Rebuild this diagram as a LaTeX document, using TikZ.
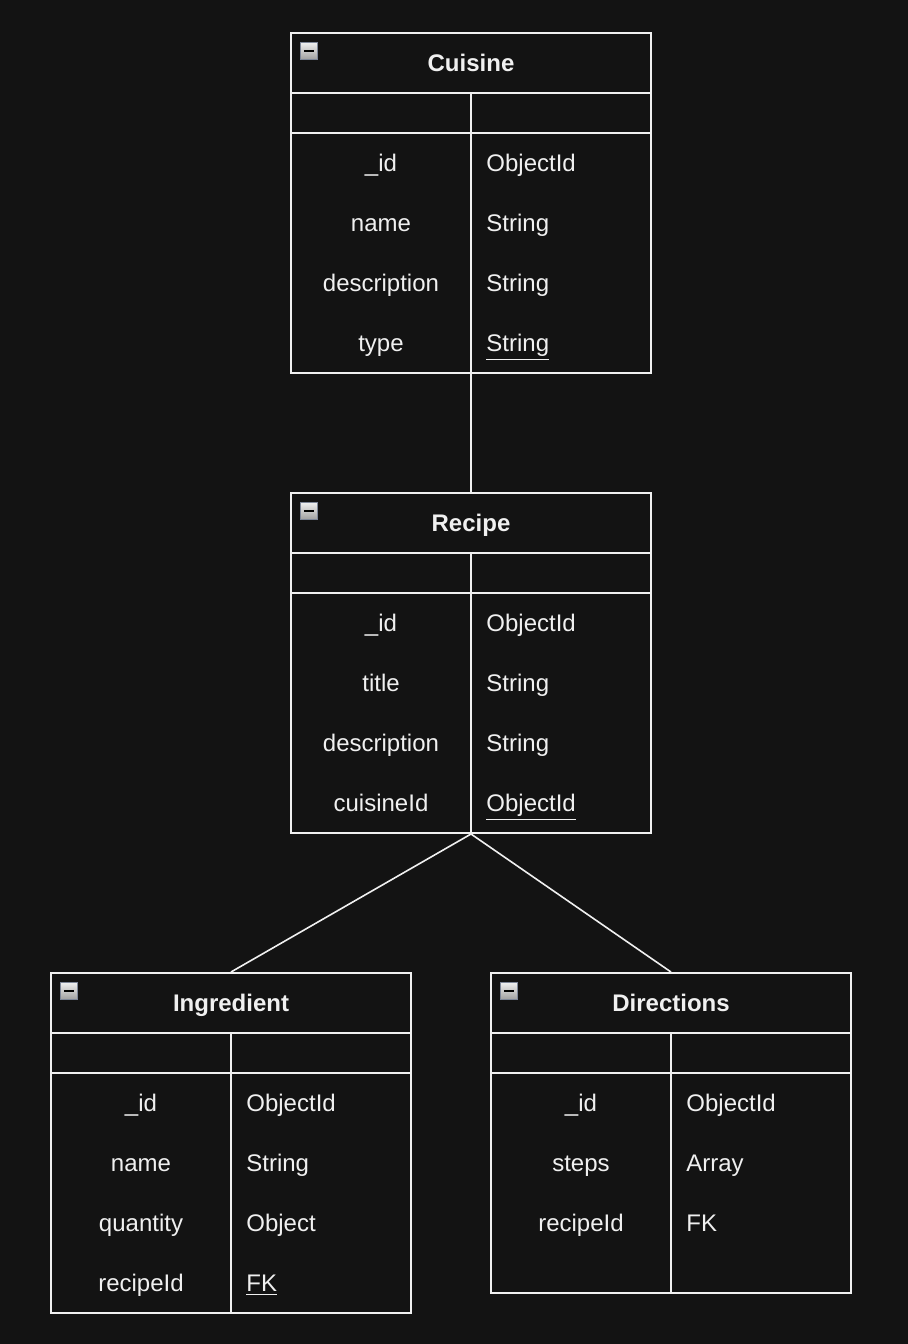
\documentclass[tikz,border=0pt]{standalone}
\usepackage{fontspec}
\setmainfont{Liberation Sans}
\definecolor{bgdark}{HTML}{131313}
\definecolor{inkwhite}{HTML}{F0F0F0}
\definecolor{iconedge}{HTML}{7E8799}
\newcommand{\fieldfont}{\fontsize{12pt}{14pt}\selectfont}
\tikzset{
  entity/.style={draw=inkwhite, line width=1pt, minimum width=180pt, inner sep=0pt},
  etitle/.style={text=inkwhite, font=\fieldfont\bfseries, text height=8.6pt, text depth=0pt, inner sep=0pt},
  fieldname/.style={text=inkwhite, font=\fieldfont, text height=8.6pt, text depth=0pt, inner sep=0pt},
  fieldtype/.style={fieldname, anchor=west},
  minusicon/.style={draw=iconedge, line width=0.6pt, minimum size=8.5pt, inner sep=0pt,
    top color=white!88!gray, bottom color=gray!75,
    path picture={\draw[black, line width=1pt] ([xshift=1.8pt]path picture bounding box.west) -- ([xshift=-1.8pt]path picture bounding box.east);}},
  rule/.style={draw=inkwhite, line width=1pt},
}
\begin{document}
\begin{tikzpicture}[x=0.5pt,y=-0.5pt]
    \fill[bgdark](0,0) rectangle (908,1344);
    \useasboundingbox(0,0) rectangle (908,1344);
    % Cuisine
    \node[entity, minimum height=170pt](cuisine) at (471,203){};
    \draw[rule](291,93)--(651,93) (291,133)--(651,133) (471,93)--(471,373);
    \node[minusicon](cuisinemin) at (309,51){};
    \node[etitle](cuisinetitle) at (471,63){Cuisine};
    \foreach \y/\f/\t [count=\i] in {163/\_id/ObjectId,223/name/String,283/description/String,343/type/\underline{String}}{
        \node[fieldname](cuisinef\i) at (381,\y){\f};
        \node[fieldtype](cuisinet\i) at (486,\y){\t};
    }
    % Recipe
    \node[entity, minimum height=170pt](recipe) at (471,663){};
    \draw[rule](291,553)--(651,553) (291,593)--(651,593) (471,553)--(471,833);
    \node[minusicon](recipemin) at (309,511){};
    \node[etitle](recipetitle) at (471,523){Recipe};
    \foreach \y/\f/\t [count=\i] in {623/\_id/ObjectId,683/title/String,743/description/String,803/cuisineId/\underline{ObjectId}}{
        \node[fieldname](recipef\i) at (381,\y){\f};
        \node[fieldtype](recipet\i) at (486,\y){\t};
    }
    % Ingredient
    \node[entity, minimum height=170pt](ingredient) at (231,1143){};
    \draw[rule](51,1033)--(411,1033) (51,1073)--(411,1073) (231,1033)--(231,1313);
    \node[minusicon](ingredientmin) at (69,991){};
    \node[etitle](ingredienttitle) at (231,1003){Ingredient};
    \foreach \y/\f/\t [count=\i] in {1103/\_id/ObjectId,1163/name/String,1223/quantity/Object,1283/recipeId/\underline{FK}}{
        \node[fieldname](ingredientf\i) at (141,\y){\f};
        \node[fieldtype](ingredientt\i) at (246,\y){\t};
    }
    % Directions
    \node[entity, minimum height=160pt](directions) at (671,1133){};
    \draw[rule](491,1033)--(851,1033) (491,1073)--(851,1073) (671,1033)--(671,1293);
    \node[minusicon](directionsmin) at (509,991){};
    \node[etitle](directionstitle) at (671,1003){Directions};
    \foreach \y/\f/\t [count=\i] in {1103/\_id/ObjectId,1163/steps/Array,1223/recipeId/FK}{
        \node[fieldname](directionsf\i) at (581,\y){\f};
        \node[fieldtype](directionst\i) at (686,\y){\t};
    }
    % links
    \draw[inkwhite, line width=0.8pt](cuisine.south)--(recipe.north);
    \draw[inkwhite, line width=0.8pt](recipe.south)--(ingredient.north);
    \draw[inkwhite, line width=0.8pt](recipe.south)--(directions.north);
\end{tikzpicture}
\end{document}
